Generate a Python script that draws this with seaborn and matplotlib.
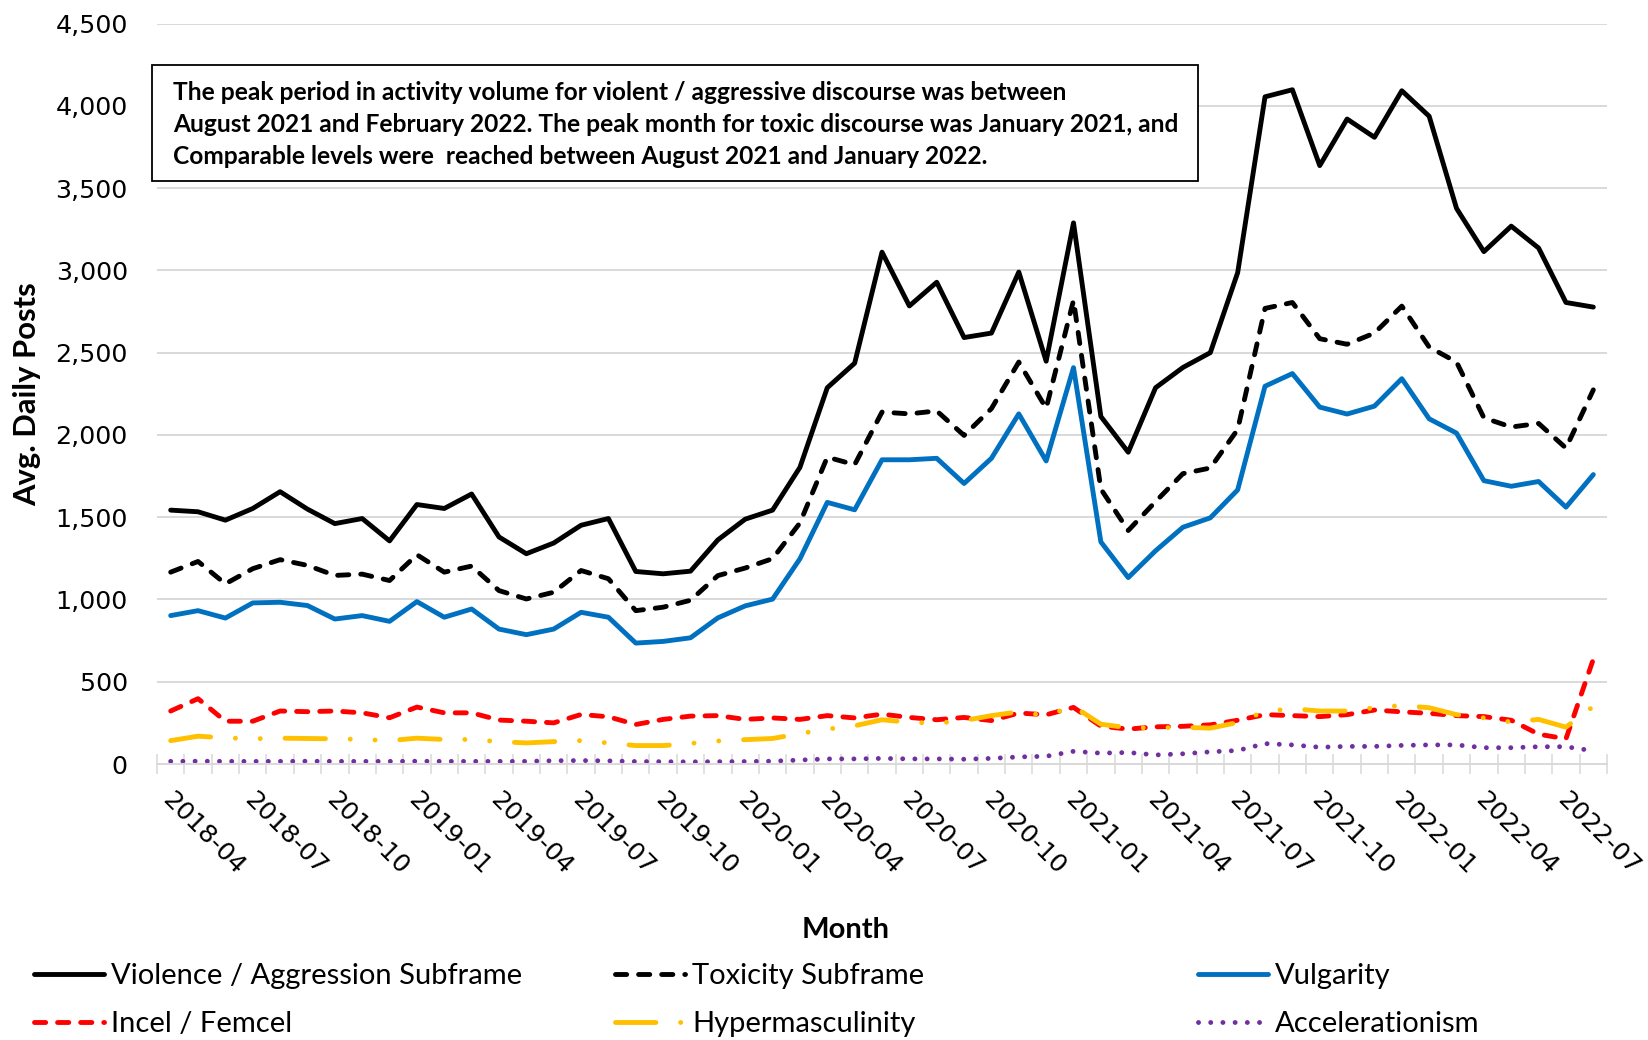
import numpy as np
import pandas as pd
import matplotlib
matplotlib.use("Agg")
import matplotlib.pyplot as plt
import matplotlib.transforms as mtransforms
import seaborn as sns
from matplotlib.patches import Rectangle
from matplotlib.ticker import FuncFormatter

# ---------------- data ----------------
months = pd.period_range("2018-04", "2022-08", freq="M").strftime("%Y-%m").tolist()

violence = [1543, 1533, 1482, 1553, 1655, 1549, 1461, 1492, 1356, 1577, 1553, 1641, 1380,
            1278, 1343, 1451, 1492, 1170, 1156, 1172, 1362, 1488, 1543, 1803, 2287, 2436,
            3111, 2784, 2928, 2592, 2619, 2990, 2448, 3289, 2112, 1895, 2287, 2410, 2500,
            2986, 4055, 4098, 3637, 3920, 3809, 4092, 3937, 3377, 3114, 3269, 3136, 2805, 2777]
toxicity = [1166, 1231, 1095, 1187, 1242, 1207, 1146, 1154, 1115, 1272, 1166, 1203, 1054,
            1003, 1044, 1176, 1126, 932, 953, 995, 1145, 1191, 1248, 1465, 1865, 1819,
            2139, 2128, 2146, 1997, 2160, 2443, 2162, 2818, 1671, 1419, 1595, 1765, 1799,
            2033, 2769, 2805, 2585, 2551, 2619, 2783, 2534, 2443, 2104, 2048, 2070, 1920, 2274]
vulgarity = [902, 932, 887, 979, 983, 963, 881, 902, 867, 987, 892, 942, 820,
             786, 820, 922, 892, 735, 745, 767, 888, 961, 1002, 1247, 1590, 1545,
             1849, 1849, 1858, 1705, 1858, 2128, 1842, 2409, 1350, 1133, 1296, 1439, 1496,
             1666, 2296, 2373, 2169, 2127, 2175, 2342, 2098, 2011, 1722, 1688, 1717, 1561, 1759]
incel = [322, 397, 260, 260, 322, 318, 322, 311, 281, 346, 311, 311, 267,
         260, 250, 301, 287, 240, 271, 291, 294, 271, 280, 271, 294, 280,
         303, 283, 269, 283, 264, 310, 299, 344, 230, 212, 226, 229, 238,
         266, 300, 294, 288, 300, 328, 317, 308, 294, 288, 266, 181, 153, 637]
hyper = [142, 169, 159, 153, 157, 155, 153, 149, 142, 157, 149, 149, 136,
         128, 136, 142, 128, 112, 112, 125, 140, 148, 155, 185, 212, 232,
         269, 253, 248, 264, 294, 317, 294, 350, 242, 220, 220, 223, 218,
         252, 320, 336, 322, 322, 342, 356, 342, 300, 280, 255, 271, 224, 350]
accel = [16, 17, 16, 16, 16, 17, 16, 16, 16, 17, 16, 16, 16,
         16, 20, 21, 19, 15, 14, 13, 14, 15, 17, 24, 31, 31,
         34, 31, 31, 29, 34, 43, 47, 77, 66, 70, 55, 62, 74,
         82, 124, 116, 102, 107, 107, 113, 116, 116, 99, 99, 105, 105, 80]

series_names = ["Violence / Aggression Subframe", "Toxicity Subframe", "Vulgarity",
                "Incel / Femcel", "Hypermasculinity", "Accelerationism"]
series_values = [violence, toxicity, vulgarity, incel, hyper, accel]
series_colors = ["#000000", "#000000", "#0070C0", "#FF0000", "#FFC000", "#7030A0"]
series_dashes = [None, (2.3, 2.45), None, (2.3, 2.45),
                 (8.3, 5.1, 0.01, 5.1, 0.01, 5.1), (0.01, 2.5)]

note_lines = [
    "The peak period in activity volume for violent / aggressive discourse was between",
    "August 2021 and February 2022. The peak month for toxic discourse was January 2021, and",
    "Comparable levels were  reached between August 2021 and January 2022.",
]

# ---------------- figure ----------------
W, H = 1648, 1040
sns.set_theme(style="white")
plt.rcParams['font.family'] = ['DejaVu Sans']
fig = plt.figure(figsize=(W / 100, H / 100), dpi=100)
renderer = fig.canvas.get_renderer()

def px2fx(px):
    return px / W

def px2fy(py):
    return 1 - py / H

def fit_size(s, target_px, family, weight="normal", base=20.0):
    t = fig.text(0, 0, s, fontsize=base, fontfamily=family, fontweight=weight)
    w = t.get_window_extent(renderer=renderer).width
    t.remove()
    return base * target_px / w

ax_left, ax_right, ax_top, ax_bottom = 157, 1607, 23.6, 764
ax = fig.add_axes([px2fx(ax_left), px2fy(ax_bottom),
                   (ax_right - ax_left) / W, (ax_bottom - ax_top) / H])

x = np.arange(len(months))
LW = 3.5
handles = []
for name, vals, color, dash in zip(series_names, series_values, series_colors, series_dashes):
    sns.lineplot(x=x, y=vals, ax=ax, color=color, linewidth=LW, legend=False)
    ln = ax.lines[-1]
    ln.set_label(name)
    if dash is not None:
        ln.set_dashes(dash)
    ln.set_dash_capstyle("round")
    ln.set_solid_capstyle("round")
    ln.set_solid_joinstyle("round")
    ln.set_dash_joinstyle("round")
    handles.append(ln)

ax.set_xlim(-0.5, len(months) - 0.5)
ax.set_ylim(0, 4500)
ax.set_yticks(np.arange(0, 4501, 500))
ax.yaxis.set_major_formatter(FuncFormatter(lambda v, p: f"{int(v):,}"))
ax.grid(axis="y", color="#d9d9d9", linewidth=1.4)
ax.grid(axis="x", visible=False)
ax.set_axisbelow(True)
for s in ["left", "right", "top"]:
    ax.spines[s].set_visible(False)
ax.spines["bottom"].set_color("#d9d9d9")
ax.spines["bottom"].set_linewidth(1.4)

ax.set_xticks(x[::3])
ax.set_xticklabels(months[::3])
ax.set_xticks(np.arange(-0.5, len(months)), minor=True)
ax.tick_params(axis="x", which="major", bottom=True, length=0, pad=23,
               labelsize=18.2, labelcolor="black")
ax.tick_params(axis="x", which="minor", bottom=True, direction="inout", length=14.4,
               width=1.1, color="#d9d9d9")
ax.tick_params(axis="y", left=False, length=0, pad=21, labelsize=18.3, labelcolor="black")
shift = mtransforms.ScaledTranslation(-4.5 / 100, 0, fig.dpi_scale_trans)
for lab in ax.get_xticklabels():
    lab.set_rotation(-45)
    lab.set_ha("left")
    lab.set_va("center")
    lab.set_rotation_mode("anchor")
    lab.set_transform(lab.get_transform() + shift)
ax.set_xlabel("")
ax.set_ylabel("")

# ---------------- axis titles ----------------
ylab_size = fit_size("Avg. Daily Posts", 224, "Lato", "bold")
fig.text(px2fx(27), px2fy(394), "Avg. Daily Posts", rotation=90, ha="center", va="center",
         fontsize=ylab_size, fontfamily="Lato", fontweight="bold", color="black")
month_size = fit_size("Month", 88, "Lato", "bold")
fig.text(px2fx(846), px2fy(930), "Month", ha="center", va="center",
         fontsize=month_size, fontfamily="Lato", fontweight="bold", color="black")

# ---------------- annotation box ----------------
box = Rectangle((px2fx(152), px2fy(181)), (1198 - 152) / W, (181 - 65) / H,
                transform=fig.transFigure, facecolor="white", edgecolor="black",
                linewidth=1.3, zorder=10)
fig.add_artist(box)
note_size = fit_size(note_lines[1], 1006, "Lato", "bold")
for line, base_y in zip(note_lines, [100.0, 132.0, 163.8]):
    fig.text(px2fx(173), px2fy(base_y), line, ha="left", va="baseline",
             fontsize=note_size, fontfamily="Lato", fontweight="bold",
             color="black", zorder=11)

# ---------------- legend (three columns) ----------------
leg_size = fit_size(series_names[0], 412, "Lato")
fs_px = leg_size * 100 / 72
row_h = 25.3
labelspacing = (47.3 - row_h) / fs_px
col_x = [34, 615, 1198]
for ci in range(3):
    hs = [handles[ci], handles[ci + 3]]
    fig.legend(handles=hs, labels=[h.get_label() for h in hs], loc="upper left",
               bbox_to_anchor=(px2fx(col_x[ci]), px2fy(975.5 - row_h / 2)),
               bbox_transform=fig.transFigure, frameon=False, borderpad=0,
               borderaxespad=0, handlelength=70 / fs_px, handletextpad=7 / fs_px,
               labelspacing=labelspacing, prop={"family": "Lato", "size": leg_size},
               labelcolor="black")

fig.savefig("out.png", dpi=100, facecolor="white")
